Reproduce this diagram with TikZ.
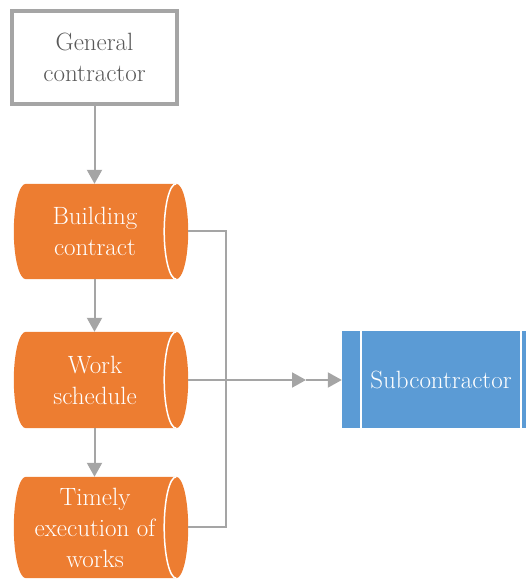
\documentclass[tikz,border=0pt]{standalone}
\usetikzlibrary{calc,arrows.meta,backgrounds}
\definecolor{cylorange}{HTML}{ED7D31}
\definecolor{subblue}{HTML}{5B9BD5}
\definecolor{linegray}{HTML}{A5A5A5}
\definecolor{textgray}{HTML}{595959}
\tikzset{
  lbl/.style={font=\rmfamily\fontsize{25}{31}\selectfont, align=center, inner sep=0pt},
  gcbox/.style={lbl, draw=linegray, line width=4pt, fill=white, text=textgray,
    minimum width=165pt, minimum height=93pt},
  cyl/.style={lbl, text=white, minimum width=162pt},
  subbox/.style={lbl, fill=subblue, text=white, minimum width=198pt, minimum height=97pt,
    path picture={
      \draw[white, line width=1.5pt]
        ($(path picture bounding box.north west)+(19pt,0)$) -- ($(path picture bounding box.south west)+(19pt,0)$)
        ($(path picture bounding box.north east)+(-19pt,0)$) -- ($(path picture bounding box.south east)+(-19pt,0)$);
    }},
  conn/.style={draw=linegray, line width=2pt},
  arr/.style={conn, -{Triangle[width=15pt, length=14pt]}}
}
\newcommand\cylshape[1]{%
  \fill[cylorange] let \p1=(#1.north west), \p2=(#1.south east) in
    (\x1+12pt,\y1) arc[start angle=90, end angle=270, x radius=12pt, y radius={(\y1-\y2)/2}]
    -- (\x2,\y2) arc[start angle=-90, end angle=90, x radius=12pt, y radius={(\y1-\y2)/2}]
    -- cycle;
  \draw[white, line width=1.5pt] let \p1=(#1.north west), \p2=(#1.south east) in
    (\x2,\y1) arc[start angle=90, end angle=270, x radius=12pt, y radius={(\y1-\y2)/2}];
}
\begin{document}
\begin{tikzpicture}[x=1pt, y=1pt]
\useasboundingbox (0,0) rectangle (526,580);
\node[gcbox] (gc) at (94.5,522.5) {General\\contractor};
\node[cyl, minimum height=95pt] (bc) at (95,348.5) {Building\\contract};
\node[cyl, minimum height=96pt] (ws) at (95,200) {Work\\schedule};
\node[cyl, minimum height=101pt] (te) at (95,52.5) {Timely\\execution of\\works};
\node[subbox] (sub) at (441,200) {Subcontractor};
\begin{scope}[on background layer]
  \cylshape{bc}
  \cylshape{ws}
  \cylshape{te}
\end{scope}
\coordinate (bcr) at ($(bc.east)+(12pt,0)$);
\coordinate (wsr) at ($(ws.east)+(12pt,0)$);
\coordinate (ter) at ($(te.east)+(12pt,0)$);
\coordinate (bus) at (226,200);
\coordinate (mid) at (306,200);
\draw[arr] (gc.south) -- (gc.south |- bc.north);
\draw[arr] (gc.south |- bc.south) -- (gc.south |- ws.north);
\draw[arr] (gc.south |- ws.south) -- (gc.south |- te.north);
\draw[conn] (bcr) -| (bus) |- (ter);
\draw[arr] (wsr) -- (mid);
\draw[arr] (mid) -- (sub.west);
\end{tikzpicture}
\end{document}
